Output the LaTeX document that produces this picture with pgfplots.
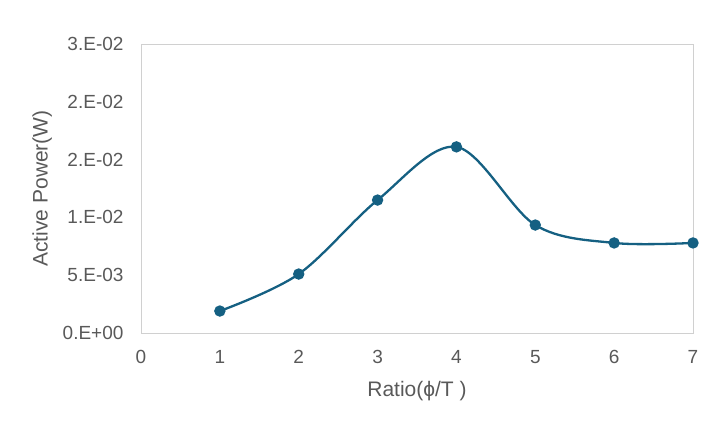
\documentclass[border=0pt]{standalone}
\usepackage{pgfplots}
\pgfplotsset{compat=1.18}
\usepackage{fontspec}
\setmainfont{Liberation Sans}
\definecolor{line}{HTML}{156082}
\definecolor{txt}{HTML}{595959}
\definecolor{frame}{HTML}{D0D0D0}
\begin{document}
\begin{tikzpicture}[x=1pt,y=1pt]
\useasboundingbox (0,0) rectangle (719,435);
\begin{axis}[
  at={(141pt,102pt)}, anchor=south west,
  scale only axis, width=552pt, height=289pt,
  xmin=0, xmax=7, ymin=0, ymax=0.025,
  xtick={0,1,2,3,4,5,6,7},
  ytick={0,0.005,0.01,0.015,0.02,0.025},
  yticklabels={0.E+00,5.E-03,1.E-02,2.E-02,2.E-02,3.E-02},
  scaled y ticks=false,
  major tick length=0pt,
  axis line style={frame, line width=0.8pt},
  tick label style={font=\fontsize{19}{21}\selectfont, color=txt},
  /pgf/number format/assume math mode=true,
  xticklabel style={yshift=-14pt},
  yticklabel style={xshift=-14pt},
  xlabel={Ratio(ϕ/T )},
  ylabel={Active Power(W)},
  label style={font=\fontsize{21}{23}\selectfont, color=txt},
  xlabel style={yshift=-10pt},
  ylabel style={yshift=4pt},
  clip=false,
]
\addplot[color=line, line width=2.3pt, smooth, tension=0.55, mark=*, mark size=4.5pt, mark options={fill=line, draw=line}]
coordinates {(1,0.0019) (2,0.0051) (3,0.0115) (4,0.0161) (5,0.00934) (6,0.00779) (7,0.00779)};
\end{axis}
\end{tikzpicture}
\end{document}
